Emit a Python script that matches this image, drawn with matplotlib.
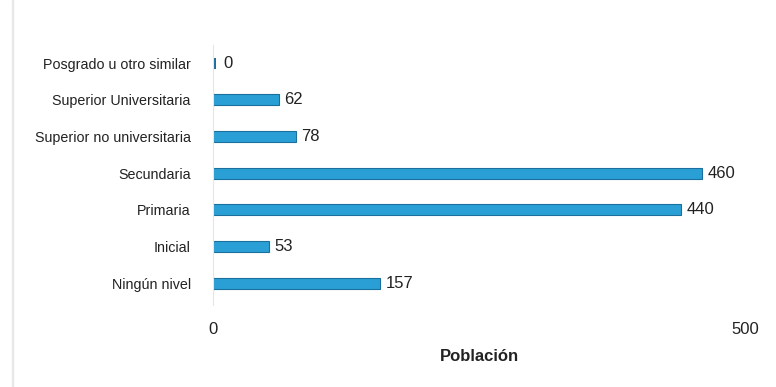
import matplotlib
matplotlib.use("Agg")
import matplotlib.pyplot as plt

categories = ["Ningún nivel", "Inicial", "Primaria", "Secundaria",
              "Superior no universitaria", "Superior Universitaria",
              "Posgrado u otro similar"]
values = [157, 53, 440, 460, 78, 62, 0]
xticks = [0, 500]
xlabel = "Población"

plt.rcParams['font.family'] = ['Liberation Sans', 'DejaVu Sans']

fig = plt.figure(figsize=(7.76, 3.87), dpi=100)
ax = fig.add_axes([213/776, 1-305/387, (745-213)/776, (305-45)/387])

color = "#2a9fd6"
ax.barh(range(len(categories)), values, height=0.3, color=color,
        edgecolor="#1a6f9c", linewidth=0.8)
for i, v in enumerate(values):
    if v == 0:
        ax.barh(i, 2, height=0.3, color="#1a6f9c", left=1)
    ax.text(v + 5 + (5 if v == 0 else 0), i, str(v), va="center", ha="left",
            fontsize=12, color="#222222")

ax.set_yticks(range(len(categories)))
ax.set_yticklabels(categories, fontsize=10.3, color="#222222")
ax.set_xlim(0, 500)
ax.set_ylim(-0.6, 6.5)
ax.set_xticks(xticks)
ax.set_xticklabels([str(t) for t in xticks], fontsize=12, color="#222222")
ax.tick_params(axis="y", length=0, pad=16)
ax.tick_params(axis="x", length=0, pad=12)
ax.set_xlabel(xlabel, fontsize=12, fontweight="bold", color="#222222", labelpad=9)
for s in ["top", "right", "bottom"]:
    ax.spines[s].set_visible(False)
ax.spines["left"].set_color("#e6e6e6")

fig.patches.append(plt.Rectangle((12/776, 0), 1/776, 1, transform=fig.transFigure,
                                 color="#e8e8e8", zorder=0))
fig.savefig("out.png", dpi=100)
